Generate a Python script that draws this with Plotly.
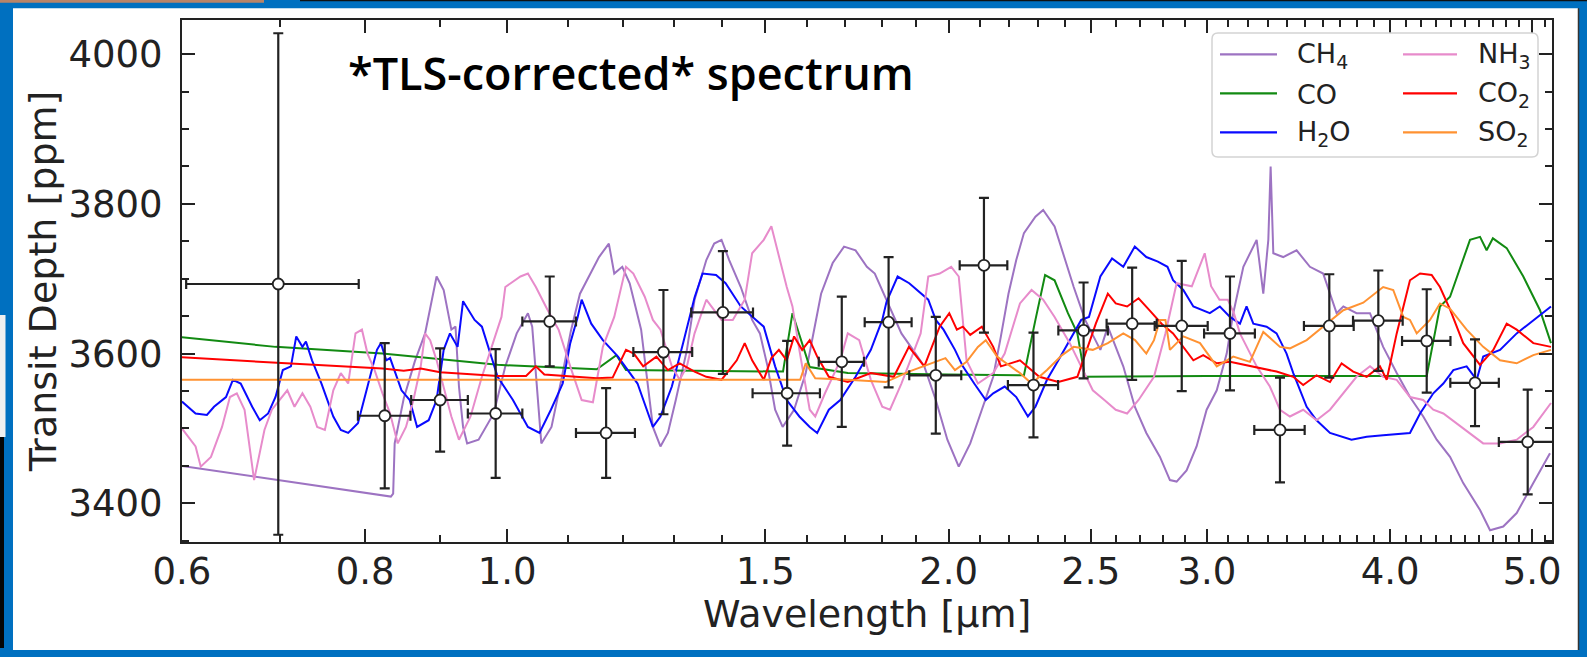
import plotly.graph_objects as go

# ------------------------------------------------------------------ data
wl = [0.698, 0.825, 0.900, 0.982, 1.069, 1.168, 1.278, 1.403, 1.552, 1.691, 1.820, 1.960,
      2.114, 2.285, 2.472, 2.668, 2.884, 3.111, 3.365, 3.636, 3.927, 4.237, 4.571, 4.965]
wl_err = [0.094, 0.034, 0.040, 0.042, 0.045, 0.054, 0.059, 0.068, 0.082, 0.060, 0.067, 0.080,
          0.079, 0.090, 0.096, 0.105, 0.120, 0.124, 0.133, 0.142, 0.153, 0.161, 0.174, 0.220]
depth = [3693, 3517, 3538, 3520, 3643, 3494, 3602, 3655, 3547, 3589, 3642, 3571,
         3718, 3558, 3631, 3640, 3637, 3627, 3498, 3637, 3644, 3617, 3561, 3482]
depth_err = [335, 97, 69, 86, 60, 60, 83, 82, 70, 87, 87, 78,
             90, 70, 64, 75, 87, 76, 70, 69, 67, 69, 58, 70]

ch4_wl = [0.600, 0.833, 0.836, 0.838, 0.850, 0.865, 0.879, 0.895, 0.905, 0.916, 0.922, 0.927,
          0.933, 0.939, 0.956, 0.979, 0.997, 1.015, 1.033, 1.040, 1.055, 1.072, 1.090, 1.105,
          1.121, 1.155, 1.173, 1.183, 1.198, 1.212, 1.234, 1.257, 1.272, 1.287, 1.303, 1.326,
          1.342, 1.367, 1.384, 1.400, 1.417, 1.443, 1.469, 1.487, 1.505, 1.523, 1.541, 1.569,
          1.598, 1.617, 1.637, 1.667, 1.697, 1.728, 1.759, 1.781, 1.802, 1.835, 1.857, 1.891,
          1.925, 1.960, 1.996, 2.032, 2.069, 2.107, 2.145, 2.171, 2.197, 2.224, 2.251, 2.292,
          2.320, 2.362, 2.390, 2.434, 2.478, 2.538, 2.568, 2.631, 2.679, 2.728, 2.787, 2.831,
          2.861, 2.906, 2.952, 2.999, 3.047, 3.095, 3.127, 3.177, 3.244, 3.278, 3.304, 3.316,
          3.330, 3.382, 3.454, 3.527, 3.601, 3.678, 3.717, 3.795, 3.876, 3.957, 4.042, 4.127,
          4.214, 4.304, 4.395, 4.487, 4.607, 4.680, 4.778, 4.880, 5.009, 5.142]
ch4_td = [3450, 3409, 3413, 3480, 3540, 3590, 3627, 3703, 3685, 3632, 3636, 3556,
          3502, 3480, 3485, 3520, 3583, 3627, 3654, 3636, 3480, 3502, 3570, 3630,
          3680, 3729, 3747, 3707, 3716, 3694, 3632, 3502, 3476, 3494, 3538, 3605,
          3672, 3725, 3747, 3752, 3725, 3689, 3645, 3627, 3583, 3525, 3502, 3525,
          3574, 3627, 3680, 3721, 3743, 3738, 3716, 3707, 3685, 3649, 3627, 3605,
          3583, 3538, 3485, 3449, 3480, 3525, 3569, 3623, 3680, 3725, 3761, 3783,
          3792, 3770, 3738, 3689, 3645, 3605, 3636, 3583, 3529, 3494, 3462, 3431,
          3429, 3444, 3476, 3525, 3551, 3600, 3654, 3716, 3752, 3680, 3752, 3850,
          3734, 3729, 3738, 3716, 3707, 3654, 3663, 3654, 3654, 3609, 3574, 3542,
          3516, 3485, 3462, 3427, 3391, 3364, 3369, 3387, 3427, 3467]

co_wl = [0.600, 0.695, 0.822, 0.985, 1.121, 1.151, 1.187, 1.205, 1.542, 1.565, 1.608, 1.707,
         2.000, 2.251, 2.292, 2.327, 2.362, 2.412, 2.448, 2.477, 3.000, 3.500, 4.237, 4.326,
         4.395, 4.535, 4.607, 4.655, 4.701, 4.804, 4.931, 5.062, 5.150]
co_td = [3622, 3609, 3600, 3585, 3580, 3579, 3598, 3578, 3576, 3654, 3582, 3574,
         3572, 3571, 3645, 3705, 3698, 3654, 3627, 3569, 3570, 3570, 3570, 3663,
         3676, 3752, 3756, 3738, 3754, 3741, 3703, 3658, 3614]

h2o_wl = [0.600, 0.613, 0.624, 0.631, 0.643, 0.650, 0.658, 0.670, 0.678, 0.687, 0.695, 0.703,
          0.712, 0.718, 0.725, 0.729, 0.736, 0.747, 0.761, 0.770, 0.779, 0.791, 0.803, 0.815,
          0.820, 0.827, 0.832, 0.847, 0.858, 0.868, 0.884, 0.895, 0.905, 0.914, 0.925, 0.933,
          0.950, 0.961, 0.985, 1.009, 1.033, 1.052, 1.071, 1.091, 1.104, 1.117, 1.124, 1.141,
          1.162, 1.190, 1.227, 1.257, 1.272, 1.295, 1.318, 1.342, 1.359, 1.388, 1.409, 1.443,
          1.478, 1.496, 1.523, 1.551, 1.582, 1.608, 1.627, 1.657, 1.687, 1.728, 1.770, 1.802,
          1.814, 1.846, 1.880, 1.902, 1.937, 1.960, 1.984, 2.020, 2.045, 2.082, 2.120, 2.145,
          2.184, 2.224, 2.265, 2.292, 2.334, 2.376, 2.419, 2.463, 2.493, 2.538, 2.585, 2.631,
          2.679, 2.728, 2.778, 2.820, 2.845, 2.891, 2.937, 3.014, 3.062, 3.111, 3.160, 3.193,
          3.227, 3.295, 3.347, 3.400, 3.436, 3.509, 3.564, 3.640, 3.765, 3.856, 3.957, 4.127,
          4.193, 4.281, 4.349, 4.418, 4.511, 4.583, 4.630, 4.754, 4.880, 5.009, 5.150]
h2o_td = [3536, 3520, 3518, 3529, 3542, 3565, 3560, 3529, 3511, 3520, 3542, 3578,
          3583, 3623, 3609, 3616, 3591, 3560, 3516, 3498, 3494, 3507, 3556, 3605,
          3614, 3591, 3594, 3551, 3538, 3502, 3511, 3538, 3605, 3627, 3609, 3670,
          3645, 3636, 3569, 3538, 3502, 3494, 3525, 3560, 3614, 3649, 3672, 3640,
          3618, 3596, 3560, 3502, 3516, 3556, 3614, 3675, 3707, 3705, 3694, 3663,
          3645, 3636, 3583, 3538, 3516, 3502, 3494, 3525, 3538, 3569, 3605, 3645,
          3669, 3703, 3694, 3685, 3672, 3645, 3632, 3605, 3583, 3560, 3538, 3547,
          3556, 3542, 3516, 3529, 3565, 3591, 3618, 3645, 3649, 3703, 3727, 3716,
          3743, 3729, 3723, 3716, 3698, 3685, 3663, 3654, 3663, 3649, 3640, 3663,
          3640, 3636, 3627, 3600, 3574, 3529, 3511, 3494, 3485, 3489, 3491, 3494,
          3520, 3547, 3560, 3578, 3583, 3565, 3596, 3605, 3627, 3645, 3663]

nh3_wl = [0.600, 0.613, 0.618, 0.628, 0.639, 0.647, 0.654, 0.662, 0.672, 0.683, 0.691, 0.699,
          0.708, 0.716, 0.725, 0.734, 0.742, 0.751, 0.761, 0.770, 0.779, 0.788, 0.796, 0.803,
          0.812, 0.822, 0.832, 0.842, 0.853, 0.863, 0.873, 0.879, 0.886, 0.895, 0.905, 0.916,
          0.927, 0.944, 0.961, 0.979, 0.991, 0.997, 1.021, 1.033, 1.046, 1.065, 1.084, 1.104,
          1.124, 1.144, 1.162, 1.183, 1.205, 1.219, 1.241, 1.257, 1.272, 1.295, 1.311, 1.326,
          1.342, 1.367, 1.400, 1.425, 1.452, 1.469, 1.496, 1.514, 1.532, 1.551, 1.565, 1.582,
          1.608, 1.622, 1.647, 1.687, 1.707, 1.738, 1.770, 1.802, 1.824, 1.857, 1.891, 1.914,
          1.937, 1.972, 2.008, 2.032, 2.057, 2.094, 2.145, 2.184, 2.237, 2.278, 2.320, 2.362,
          2.419, 2.463, 2.508, 2.554, 2.600, 2.647, 2.695, 2.761, 2.811, 2.861, 2.930, 2.990,
          3.020, 3.060, 3.100, 3.130, 3.160, 3.244, 3.312, 3.365, 3.418, 3.490, 3.564, 3.640,
          3.717, 3.795, 3.876, 3.957, 4.042, 4.127, 4.214, 4.281, 4.349, 4.441, 4.535, 4.630,
          4.754, 4.880, 5.009, 5.150]
nh3_td = [3500, 3476, 3449, 3462, 3502, 3542, 3547, 3525, 3431, 3498, 3525, 3538,
          3551, 3529, 3547, 3529, 3502, 3498, 3551, 3574, 3560, 3627, 3632, 3600,
          3578, 3547, 3520, 3480, 3502, 3538, 3583, 3627, 3618, 3591, 3556, 3516,
          3485, 3516, 3569, 3618, 3649, 3689, 3703, 3707, 3689, 3659, 3632, 3583,
          3538, 3535, 3609, 3649, 3716, 3707, 3676, 3645, 3632, 3583, 3565, 3583,
          3627, 3672, 3645, 3645, 3672, 3734, 3752, 3770, 3729, 3689, 3663, 3605,
          3525, 3516, 3547, 3591, 3627, 3618, 3565, 3529, 3525, 3560, 3600, 3627,
          3703, 3707, 3716, 3703, 3591, 3560, 3574, 3600, 3667, 3685, 3672, 3649,
          3614, 3583, 3551, 3538, 3525, 3520, 3538, 3569, 3627, 3694, 3690, 3734,
          3690, 3672, 3672, 3654, 3627, 3583, 3556, 3525, 3516, 3525, 3511, 3525,
          3547, 3569, 3583, 3569, 3565, 3542, 3538, 3525, 3520, 3507, 3494, 3480,
          3480, 3485, 3502, 3534]

co2_wl = [0.600, 0.700, 0.822, 0.850, 0.873, 0.900, 0.985, 1.030, 1.046, 1.060, 1.151, 1.180,
          1.205, 1.220, 1.238, 1.264, 1.287, 1.311, 1.342, 1.367, 1.400, 1.434, 1.452, 1.469,
          1.496, 1.514, 1.532, 1.551, 1.569, 1.589, 1.608, 1.627, 1.657, 1.707, 1.770, 1.835,
          1.879, 1.925, 1.972, 2.002, 2.026, 2.045, 2.069, 2.107, 2.145, 2.171, 2.237, 2.306,
          2.376, 2.448, 2.520, 2.568, 2.600, 2.647, 2.695, 2.744, 2.794, 2.845, 2.891, 2.937,
          2.983, 3.047, 3.111, 3.177, 3.261, 3.347, 3.436, 3.490, 3.564, 3.640, 3.707, 3.775,
          3.856, 3.937, 3.979, 4.042, 4.127, 4.193, 4.270, 4.326, 4.395, 4.487, 4.607, 4.704,
          4.804, 4.880, 5.009, 5.150]
co2_td = [3595, 3588, 3580, 3577, 3580, 3575, 3570, 3570, 3583, 3572, 3567, 3568,
          3605, 3600, 3583, 3596, 3578, 3587, 3576, 3569, 3565, 3591, 3614, 3591,
          3565, 3594, 3605, 3591, 3623, 3605, 3618, 3596, 3569, 3562, 3574, 3569,
          3609, 3583, 3636, 3654, 3632, 3636, 3625, 3636, 3609, 3583, 3591, 3569,
          3562, 3569, 3640, 3680, 3667, 3663, 3674, 3657, 3640, 3627, 3609, 3591,
          3598, 3587, 3589, 3585, 3580, 3576, 3569, 3558, 3571, 3562, 3587, 3576,
          3569, 3583, 3565, 3627, 3698, 3707, 3705, 3689, 3659, 3614, 3585, 3605,
          3640, 3632, 3614, 3609]

so2_wl = [0.600, 1.000, 1.500, 1.584, 1.598, 1.622, 1.707, 1.812, 1.879, 1.990, 2.020, 2.057,
          2.094, 2.120, 2.158, 2.184, 2.237, 2.278, 2.334, 2.390, 2.434, 2.508, 2.568, 2.631,
          2.680, 2.728, 2.761, 2.787, 2.811, 2.831, 2.891, 2.968, 3.047, 3.127, 3.210, 3.278,
          3.365, 3.418, 3.509, 3.621, 3.717, 3.835, 3.957, 4.020, 4.084, 4.127, 4.171, 4.259,
          4.326, 4.395, 4.511, 4.630, 4.754, 4.880, 5.009, 5.150]
so2_td = [3565, 3565, 3565, 3565, 3587, 3567, 3565, 3562, 3576, 3594, 3578, 3589,
          3609, 3618, 3596, 3589, 3574, 3560, 3578, 3598, 3609, 3605, 3614, 3627,
          3618, 3600, 3618, 3645, 3645, 3605, 3623, 3614, 3583, 3596, 3589, 3629,
          3609, 3607, 3618, 3640, 3658, 3668, 3689, 3685, 3649, 3645, 3627, 3645,
          3667, 3660, 3632, 3609, 3591, 3587, 3598, 3605]

species = ["CH<sub>4</sub>", "CO", "H<sub>2</sub>O", "NH<sub>3</sub>", "CO<sub>2</sub>", "SO<sub>2</sub>"]

x_major = [0.6, 0.8, 1.0, 1.5, 2.0, 2.5, 3.0, 4.0, 5.0]
x_major_text = ["0.6", "0.8", "1.0", "1.5", "2.0", "2.5", "3.0", "4.0", "5.0"]
x_minor = [0.7, 0.9, 1.1, 1.2, 1.3, 1.4, 1.6, 1.7, 1.8, 1.9, 2.1, 2.2, 2.3, 2.4, 2.6, 2.7,
           2.8, 2.9, 3.1, 3.2, 3.3, 3.4, 3.5, 3.6, 3.7, 3.8, 3.9, 4.1, 4.2, 4.3, 4.4, 4.5,
           4.6, 4.7, 4.8, 4.9, 5.1]

# ------------------------------------------------------------------ layout helpers
W, H = 1587, 657
L, R, T, B = 182, 1552, 20, 542
PW, PH = R - L, B - T


def fx(p):
    return (p - L) / PW


def fy(p):
    return (B - p) / PH


INK = "#222222"
FONT = "DejaVu Sans"
colors = ["#9d73c2", "#128a12", "#0a0aff", "#e78bcb", "#ff0000", "#ff9232"]
series = [(ch4_wl, ch4_td), (co_wl, co_td), (h2o_wl, h2o_td),
          (nh3_wl, nh3_td), (co2_wl, co2_td), (so2_wl, so2_td)]

fig = go.Figure()
for name, (xs, ys), col in zip(species, series, colors):
    fig.add_trace(go.Scatter(x=xs, y=ys, mode="lines", name=name, showlegend=False,
                             line=dict(color=col, width=2)))

fig.add_trace(go.Scatter(
    x=wl, y=depth, mode="markers", name="data", showlegend=False,
    error_x=dict(type="data", array=wl_err, color=INK, thickness=2.2, width=5),
    error_y=dict(type="data", array=depth_err, color=INK, thickness=2.2, width=5),
    marker=dict(symbol="circle", size=11, color="white", line=dict(color=INK, width=1.8)),
))

# ------------------------------------------------------------------ frame decorations
shapes = []
shapes.append(dict(type="rect", xref="paper", yref="paper", layer="below",
                   x0=fx(13), x1=fx(1578), y0=fy(650), y1=fy(8.3),
                   fillcolor="white", line=dict(width=0)))
shapes.append(dict(type="line", xref="paper", yref="paper", layer="below",
                   x0=fx(1578.5), x1=fx(1578.5), y0=fy(650), y1=fy(8.3),
                   line=dict(color="#333333", width=1.5)))
shapes.append(dict(type="rect", xref="paper", yref="paper", layer="below",
                   x0=fx(0), x1=fx(5.5), y0=fy(437), y1=fy(315),
                   fillcolor="#f0f0f0", line=dict(width=0)))
shapes.append(dict(type="rect", xref="paper", yref="paper", layer="below",
                   x0=fx(0), x1=fx(4), y0=fy(648), y1=fy(437),
                   fillcolor="#050505", line=dict(width=0)))
shapes.append(dict(type="rect", xref="paper", yref="paper", layer="below",
                   x0=fx(0), x1=fx(264), y0=fy(2.7), y1=fy(0),
                   fillcolor="#b98468", line=dict(width=0)))
shapes.append(dict(type="rect", xref="paper", yref="paper", layer="below",
                   x0=fx(300), x1=fx(1587), y0=fy(1.3), y1=fy(0),
                   fillcolor="#111111", line=dict(width=0)))

# legend box (two columns, matplotlib style)
lx0, lx1, ly0, ly1, rr = 1212, 1538, 33, 157, 6
path = (f"M {fx(lx0 + rr)},{fy(ly0)} L {fx(lx1 - rr)},{fy(ly0)} "
        f"Q {fx(lx1)},{fy(ly0)} {fx(lx1)},{fy(ly0 + rr)} "
        f"L {fx(lx1)},{fy(ly1 - rr)} Q {fx(lx1)},{fy(ly1)} {fx(lx1 - rr)},{fy(ly1)} "
        f"L {fx(lx0 + rr)},{fy(ly1)} Q {fx(lx0)},{fy(ly1)} {fx(lx0)},{fy(ly1 - rr)} "
        f"L {fx(lx0)},{fy(ly0 + rr)} Q {fx(lx0)},{fy(ly0)} {fx(lx0 + rr)},{fy(ly0)} Z")
shapes.append(dict(type="path", xref="paper", yref="paper", layer="above", path=path,
                   fillcolor="white", line=dict(color="#d3d3d3", width=1.5)))

annotations = []
col_line = [(1220, 1277, 1295), (1403, 1457, 1476)]
row_y = [54.3, 93.3, 132.3]
for i, (name, col) in enumerate(zip(species, colors)):
    c, r = divmod(i, 3)
    x0, x1, xt = col_line[c]
    yc = row_y[r]
    shapes.append(dict(type="line", xref="paper", yref="paper", layer="above",
                       x0=fx(x0), x1=fx(x1), y0=fy(yc), y1=fy(yc),
                       line=dict(color=col, width=2.2)))
    annotations.append(dict(text=name, xref="paper", yref="paper", x=fx(xt), y=fy(yc + 1),
                            xanchor="left", yanchor="middle", showarrow=False,
                            font=dict(family=FONT, size=27, color=INK)))

annotations.append(dict(
    text="*TLS-corrected* spectrum", xref="paper", yref="paper",
    x=fx(346), y=fy(73), xanchor="left", yanchor="middle", showarrow=False,
    font=dict(family="Open Sans", size=45, color="black", weight=600),
))
# x-axis title, placed where matplotlib put it
annotations.append(dict(
    text="Wavelength [µm]", xref="paper", yref="paper",
    x=0.5, y=fy(614), xanchor="center", yanchor="middle", showarrow=False,
    font=dict(family=FONT, size=38, color=INK), borderpad=0,
))

fig.update_layout(
    width=W, height=H, autosize=False,
    margin=dict(l=L, r=W - R, t=T, b=H - B, pad=0),
    paper_bgcolor="#0070c0", plot_bgcolor="white",
    font=dict(family=FONT, color=INK),
    shapes=shapes,
    annotations=annotations,
    showlegend=False,
    xaxis=dict(
        type="log", range=[-0.2218, 0.7125],
        tickmode="array", tickvals=x_major, ticktext=x_major_text,
        ticks="inside", ticklen=13, tickwidth=1.8, tickcolor=INK,
        showline=True, linecolor=INK, linewidth=2, mirror="allticks",
        showgrid=False, zeroline=False,
        tickfont=dict(family=FONT, size=37, color=INK),
        ticklabelstandoff=-4,
        minor=dict(tickmode="array", tickvals=x_minor, ticks="inside", ticklen=7,
                   tickwidth=1.5, tickcolor=INK, showgrid=False),
    ),
    yaxis=dict(
        range=[3348.3, 4045.7],
        tickmode="linear", tick0=0, dtick=200,
        ticks="inside", ticklen=13, tickwidth=1.8, tickcolor=INK,
        showline=True, linecolor=INK, linewidth=2, mirror="allticks",
        showgrid=False, zeroline=False,
        tickfont=dict(family=FONT, size=37, color=INK),
        ticklabelstandoff=10,
        minor=dict(tick0=0, dtick=50, ticks="inside", ticklen=7, tickwidth=1.5,
                   tickcolor=INK, showgrid=False),
        title=dict(text="Transit Depth [ppm]", font=dict(family=FONT, size=38, color=INK),
                   standoff=0),
    ),
)

fig.write_html("out.html")
